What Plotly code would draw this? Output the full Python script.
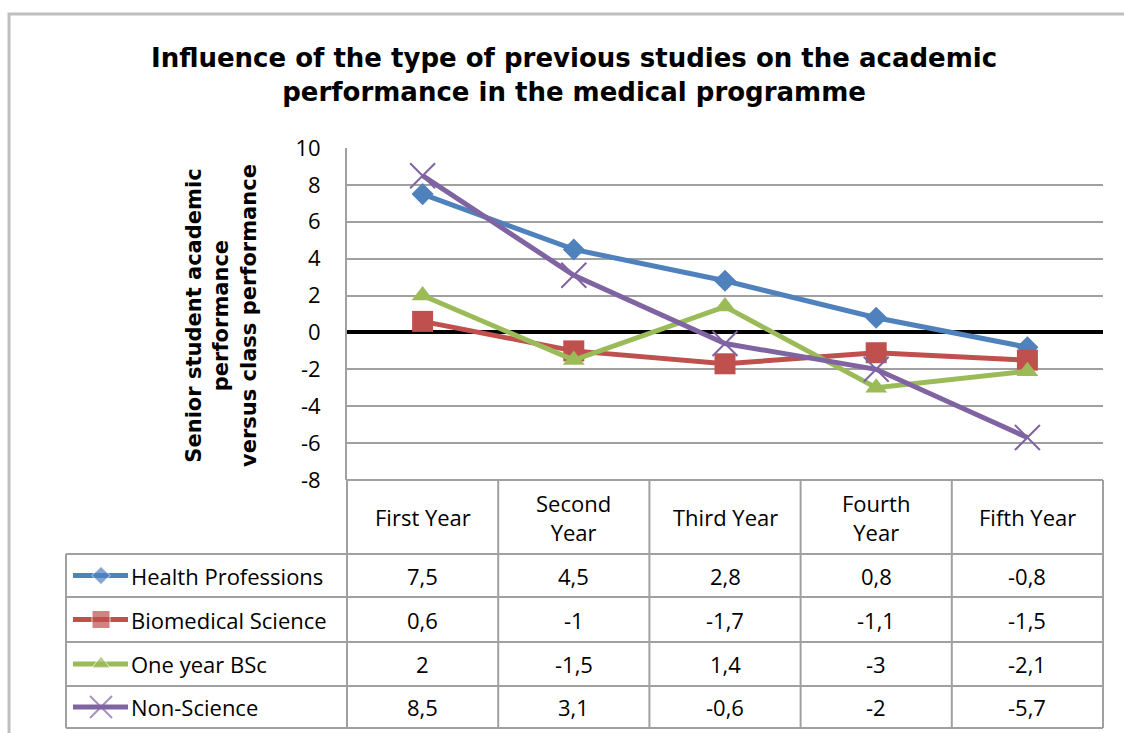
import plotly.graph_objects as go

# ---- data ----
years = ["First Year", "Second Year", "Third Year", "Fourth Year", "Fifth Year"]
year_labels = ["First Year", "Second<br>Year", "Third Year", "Fourth<br>Year", "Fifth Year"]
series_names = ["Health Professions", "Biomedical Science", "One year BSc", "Non-Science"]
health_professions = [7.5, 4.5, 2.8, 0.8, -0.8]
biomedical_science = [0.6, -1, -1.7, -1.1, -1.5]
one_year_bsc = [2, -1.5, 1.4, -3, -2.1]
non_science = [8.5, 3.1, -0.6, -2, -5.7]
y_ticks = [10, 8, 6, 4, 2, 0, -2, -4, -6, -8]

series_values = [health_professions, biomedical_science, one_year_bsc, non_science]
colors = ["#4F81BD", "#C0504D", "#9BBB59", "#8064A2"]
symbols = ["diamond", "square", "triangle-up", "x-thin-open"]
msizes = [17, 21, 19, 25]

W, H = 1124, 733
BODY_FONT = "Open Sans"
BOLD_FONT = "DejaVu Sans"
BODY_SIZE = 22


def px(x):
    return x / W


def py(y):
    return 1 - y / H


# plot area / table geometry (pixels)
PL, PR, PT, PB = 347, 1103, 148, 480
TABLE_LEFT = 66
HEADER_BOTTOM = 554
ROW_EDGES = [554, 597, 642, 686, 728]
COL_EDGES = [PL + i * (PR - PL) / len(years) for i in range(len(years) + 1)]

fig = go.Figure()

for name, vals, c, s, ms in zip(series_names, series_values, colors, symbols, msizes):
    marker = dict(symbol=s, size=ms, color=c)
    if s == "x-thin-open":
        marker["line"] = dict(color=c, width=2)
    fig.add_trace(go.Scatter(
        x=years, y=vals, name=name, mode="lines+markers",
        line=dict(color=c, width=5), marker=marker,
        showlegend=False, xaxis="x", yaxis="y",
    ))

# legend keys inside the data table (overlay axes in pixel units)
for i, (c, s, ms) in enumerate(zip(colors, symbols, msizes)):
    yc = (ROW_EDGES[i] + ROW_EDGES[i + 1]) / 2
    marker = dict(symbol=s, color=c, size=[0, ms - 3, 0])
    if s == "x-thin-open":
        marker["line"] = dict(color=c, width=2)
    fig.add_trace(go.Scatter(
        x=[73, 101, 128], y=[yc, yc, yc], mode="lines+markers",
        line=dict(color=c, width=5), marker=marker,
        showlegend=False, hoverinfo="skip", xaxis="x2", yaxis="y2",
    ))

shapes = []
GRID = "#a0a0a0"
# outer chart border
shapes.append(dict(type="rect", xref="paper", yref="paper",
                   x0=px(9), x1=px(W + 20), y0=py(H + 20), y1=py(14),
                   line=dict(color="#bfbfbf", width=3)))
# header row lines
shapes.append(dict(type="line", xref="paper", yref="paper", x0=px(PL), x1=px(PR),
                   y0=py(PB), y1=py(PB), line=dict(color=GRID, width=2)))
for xe in COL_EDGES:
    shapes.append(dict(type="line", xref="paper", yref="paper", x0=px(xe), x1=px(xe),
                       y0=py(PB), y1=py(ROW_EDGES[-1]), line=dict(color=GRID, width=2)))
shapes.append(dict(type="line", xref="paper", yref="paper", x0=px(TABLE_LEFT), x1=px(TABLE_LEFT),
                   y0=py(ROW_EDGES[0]), y1=py(ROW_EDGES[-1]), line=dict(color=GRID, width=2)))
for ye in ROW_EDGES:
    shapes.append(dict(type="line", xref="paper", yref="paper", x0=px(TABLE_LEFT), x1=px(PR),
                       y0=py(ye), y1=py(ye), line=dict(color=GRID, width=2)))

annotations = []
# title
annotations.append(dict(
    text="<b>Influence of the type of previous studies on the academic<br>performance in the medical programme</b>",
    x=px(574), y=py(75), xref="paper", yref="paper", showarrow=False,
    xanchor="center", yanchor="middle",
    font=dict(family=BOLD_FONT, size=26, color="black"), align="center",
))
# y-axis title
annotations.append(dict(
    text="<b>Senior student academic<br>performance<br>versus class performance</b>",
    x=px(221), y=py(316), xref="paper", yref="paper", showarrow=False, textangle=-90,
    xanchor="center", yanchor="middle",
    font=dict(family=BOLD_FONT, size=21, color="black"), align="center",
))
# table header (category labels)
for yr, lab in zip(years, year_labels):
    annotations.append(dict(text=lab, x=yr, y=py((PB + HEADER_BOTTOM) / 2), xref="x", yref="paper",
                            showarrow=False, xanchor="center", yanchor="middle",
                            font=dict(family=BODY_FONT, size=BODY_SIZE, color="black"),
                            align="center"))


def fmt(v):
    return ("%g" % v).replace(".", ",")


# table body
for i, (name, vals) in enumerate(zip(series_names, series_values)):
    yc = py((ROW_EDGES[i] + ROW_EDGES[i + 1]) / 2)
    annotations.append(dict(text=name, x=px(129), y=yc, xref="paper", yref="paper",
                            xanchor="left", yanchor="middle", showarrow=False,
                            font=dict(family=BODY_FONT, size=BODY_SIZE, color="black")))
    for yr, v in zip(years, vals):
        annotations.append(dict(text=fmt(v), x=yr, y=yc, xref="x", yref="paper", showarrow=False,
                                xanchor="center", yanchor="middle",
                                font=dict(family=BODY_FONT, size=BODY_SIZE, color="black")))

fig.update_layout(
    width=W, height=H, margin=dict(l=0, r=0, t=0, b=0, autoexpand=False),
    paper_bgcolor="white", plot_bgcolor="rgba(0,0,0,0)",
    xaxis=dict(domain=[px(PL), px(PR)], range=[-0.5, len(years) - 0.5], type="category",
               categoryorder="array", categoryarray=years, automargin=False,
               showticklabels=False, showgrid=False, zeroline=False, showline=False, ticks=""),
    yaxis=dict(domain=[py(PB), py(PT)], range=[-8, 10], tickvals=y_ticks,
               ticktext=[str(t) for t in y_ticks], automargin=False,
               showgrid=True, gridcolor=GRID, gridwidth=2,
               zeroline=True, zerolinecolor="black", zerolinewidth=4,
               showline=True, linecolor=GRID, linewidth=2, mirror=False,
               ticks="", ticklabelstandoff=20,
               tickfont=dict(family=BODY_FONT, size=BODY_SIZE, color="black")),
    xaxis2=dict(domain=[0, 1], range=[0, W], visible=False, fixedrange=True,
                anchor="y2", automargin=False),
    yaxis2=dict(domain=[0, 1], range=[H, 0], visible=False, fixedrange=True,
                anchor="x2", automargin=False),
    shapes=shapes, annotations=annotations,
)

fig.write_html("out.html")
